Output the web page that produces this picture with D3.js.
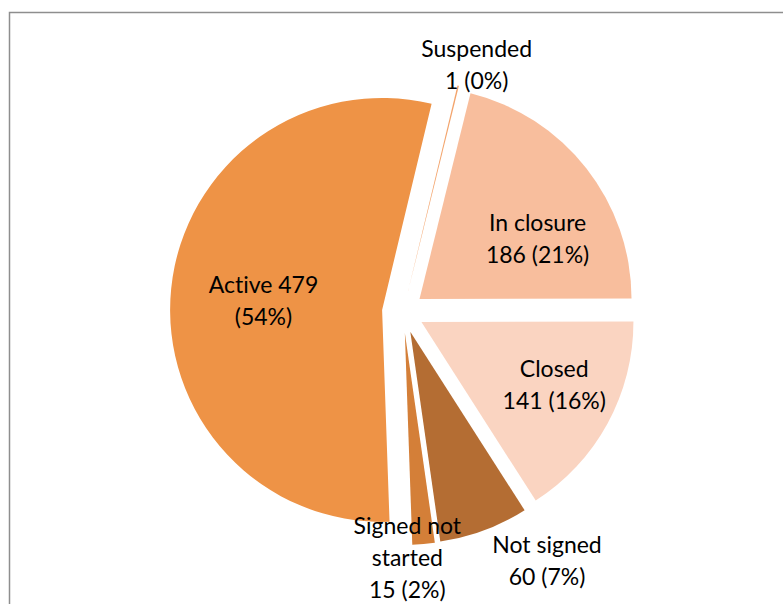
<!DOCTYPE html>
<html>
<head>
<meta charset="utf-8">
<script src="https://cdn.jsdelivr.net/npm/d3@7"></script>
<style>
  body { margin: 0; background: #fff; }
  text { font-family: Lato, "Open Sans", sans-serif; fill: #000; font-variant-ligatures: none; }
</style>
</head>
<body>
<div id="chart"></div>
<script>
    // data
    var categories = ["Suspended", "In closure", "Closed", "Not signed", "Signed not started", "Active"];
    var values = [1, 186, 141, 60, 15, 479];
    var colors = ["#F3A46C", "#F8BE9D", "#FAD4C1", "#B46D33", "#D47F38", "#EE9346"];

    var width = 783,
        height = 604;

    var center = [403, 312];
    var radius = 212;
    var explode = 21;
    var startDeg = 13.5;
    var fontSize = 23;
    var lineHeight = 32;

    // label placement: [angle in degrees clockwise from top, distance from centre]
    var labelPlace = {
        "Suspended": [16.6, 258],
        "In closure": [61.6, 153],
        "Closed": [115.8, 168],
        "Not signed": [150, 288],
        "Signed not started": [179, 246],
        "Active": [274.5, 140]
    };

    var total = d3.sum(values);
    function pct(v) { return Math.round(v / total * 100) + "%"; }

    function labelLines(name, v) {
        if (name == "Active") return [name + " " + v, "(" + pct(v) + ")"];
        if (name == "Signed not started") return ["Signed not", "started", v + " (" + pct(v) + ")"];
        return [name, v + " (" + pct(v) + ")"];
    }

    var svg = d3.select("#chart")
        .append("svg")
        .attr("width", width)
        .attr("height", height);

    // chart frame (runs off the right and bottom edge)
    svg.append("rect")
        .attr("x", 9.5)
        .attr("y", 12.5)
        .attr("width", width + 20)
        .attr("height", height + 20)
        .attr("fill", "none")
        .attr("stroke", "#8e8e8e")
        .attr("stroke-width", 1.5);

    var pie = d3.pie()
        .sort(null)
        .startAngle(startDeg * Math.PI / 180)
        .endAngle(startDeg * Math.PI / 180 + 2 * Math.PI);

    var arcs = pie(values);
    arcs.forEach(function (a, i) { a.name = categories[i]; a.color = colors[i]; });

    var arc = d3.arc().innerRadius(0).outerRadius(radius);

    var g = svg.append("g")
        .attr("transform", "translate(" + center[0] + "," + center[1] + ")");

    g.selectAll("path.slice")
        .data(arcs)
        .enter()
        .append("path")
        .attr("class", "slice")
        .attr("d", arc)
        .attr("fill", function (d) { return d.color; })
        .attr("transform", function (d) {
            var mid = (d.startAngle + d.endAngle) / 2;
            return "translate(" + (explode * Math.sin(mid)) + "," + (-explode * Math.cos(mid)) + ")";
        });

    g.selectAll("text.lbl")
        .data(arcs)
        .enter()
        .append("text")
        .attr("class", "lbl")
        .attr("text-anchor", "middle")
        .style("font-size", fontSize + "px")
        .each(function (d) {
            var p = labelPlace[d.name];
            var a = p[0] * Math.PI / 180;
            var x = p[1] * Math.sin(a);
            var y = -p[1] * Math.cos(a);
            var lines = labelLines(d.name, values[categories.indexOf(d.name)]);
            var y0 = y - (lines.length - 1) * lineHeight / 2 + fontSize * 0.35;
            var t = d3.select(this);
            lines.forEach(function (s, k) {
                t.append("tspan")
                    .attr("x", x)
                    .attr("y", y0 + k * lineHeight)
                    .text(s);
            });
        });
</script>
</body>
</html>
